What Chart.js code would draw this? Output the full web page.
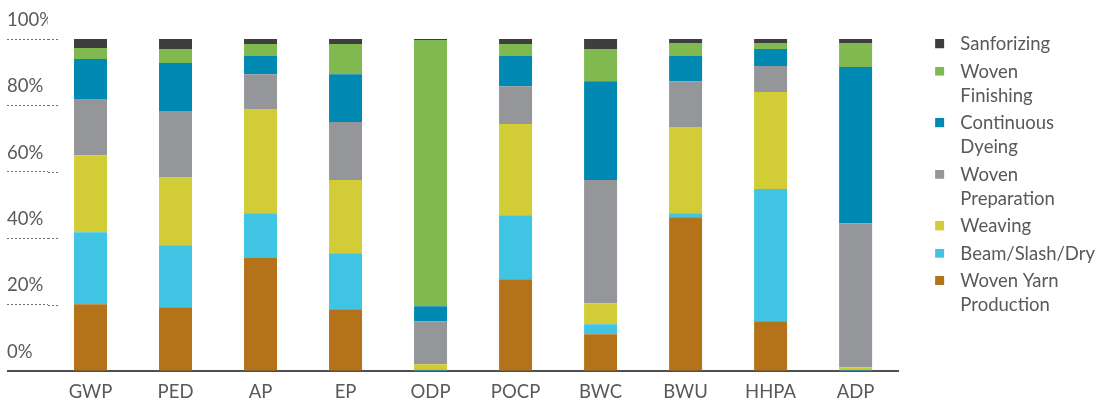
<!DOCTYPE html>
<html>
<head>
<meta charset="utf-8">
<script src="https://cdn.jsdelivr.net/npm/chart.js@4.4.1/dist/chart.umd.min.js"></script>
<style>
  html, body { margin: 0; padding: 0; background: #ffffff; }
  #wrap { position: relative; width: 1102px; height: 407px; }
</style>
</head>
<body>
<div id="wrap"><canvas id="chart"></canvas></div>
<script>
// Impact categories along the x axis
const categories = ['GWP', 'PED', 'AP', 'EP', 'ODP', 'POCP', 'BWC', 'BWU', 'HHPA', 'ADP'];

// Share of each process step per category (%), bottom of the stack first
const wovenYarnProduction = [20.1, 19.2, 34.0, 18.6, 0.0, 27.6, 11.1, 46.3, 15.0, 0.0];
const beamSlashDry        = [21.7, 18.7, 13.5, 16.9, 0.5, 19.3,  3.0,  1.2, 39.8, 0.5];
const weaving             = [23.2, 20.5, 31.4, 22.0, 1.5, 27.5,  6.3, 26.0, 29.2, 0.6];
const wovenPreparation    = [16.9, 19.9, 10.5, 17.5, 13.0, 11.4, 37.1, 13.8, 7.9, 43.4];
const continuousDyeing    = [12.1, 14.5,  5.5, 14.4, 4.5,  9.1, 29.8,  7.6, 5.1, 47.1];
const wovenFinishing      = [ 3.3,  4.2,  3.6,  9.1, 80.2, 3.6,  9.7,  3.9, 1.8,  7.2];
const sanforizing         = [ 2.7,  3.0,  1.5,  1.5, 0.3,  1.5,  3.0,  1.2, 1.2,  1.2];

// Value axis ticks (%)
const yTicks = [0, 20, 40, 60, 80, 100];

// Series names and their wrapped legend text
const seriesNames = ['Woven Yarn Production', 'Beam/Slash/Dry', 'Weaving', 'Woven Preparation',
                     'Continuous Dyeing', 'Woven Finishing', 'Sanforizing'];
const legendLines = [['Woven Yarn', 'Production'], ['Beam/Slash/Dry'], ['Weaving'], ['Woven', 'Preparation'],
                     ['Continuous', 'Dyeing'], ['Woven', 'Finishing'], ['Sanforizing']];
const seriesValues = [wovenYarnProduction, beamSlashDry, weaving, wovenPreparation,
                      continuousDyeing, wovenFinishing, sanforizing];
const seriesColors = ['#b57319', '#40c4e3', '#d2cd36', '#959699', '#0089b2', '#80b94f', '#3e3e3f'];

const TEXT = '#58595b';
const FONT = 'Lato, "Open Sans", "DejaVu Sans", sans-serif';
const FONT_SIZE = 18.5;

// Small square legend swatch, padded on the left so the text sits further right
function swatch(color) {
  const c = document.createElement('canvas');
  c.width = 50; c.height = 10;
  const g = c.getContext('2d');
  g.fillStyle = color;
  g.fillRect(34, 0, 9, 9);
  return c;
}
const swatches = seriesColors.map(swatch);

// Dotted rule stubs just inside the plot edge, and the solid baseline under the labels
const axisRules = {
  id: 'axisRules',
  afterDraw(chart) {
    const { ctx, chartArea, scales } = chart;
    const y = scales.y;
    ctx.save();
    ctx.lineWidth = 1;
    ctx.strokeStyle = '#6d6e70';
    ctx.setLineDash([2, 2]);
    yTicks.forEach(v => {
      if (v === 0) return;
      const py = Math.round(y.getPixelForValue(v)) + 0.5;
      ctx.beginPath();
      ctx.moveTo(chartArea.left, py);
      ctx.lineTo(chartArea.left + 12, py);
      ctx.stroke();
    });
    ctx.setLineDash([]);
    ctx.strokeStyle = '#4f4f50';
    ctx.lineWidth = 2;
    const by = y.getPixelForValue(0);
    ctx.beginPath();
    ctx.moveTo(y.left, by);
    ctx.lineTo(chartArea.left, by);
    ctx.stroke();
    ctx.restore();
  }
};

const datasets = seriesNames.map((name, i) => ({
  label: name,
  data: seriesValues[i],
  backgroundColor: seriesColors[i],
  borderWidth: 0,
  categoryPercentage: 1.0,
  barPercentage: 0.388
}));

Chart.defaults.font.family = FONT;
Chart.defaults.font.size = FONT_SIZE;
Chart.defaults.color = TEXT;

new Chart(document.getElementById('chart'), {
  type: 'bar',
  data: { labels: categories, datasets },
  plugins: [axisRules],
  options: {
    responsive: true,
    maintainAspectRatio: false,
    animation: false,
    layout: { padding: { left: 7, top: 32, right: -3, bottom: 0 } },
    plugins: {
      tooltip: { enabled: false },
      legend: {
        position: 'right',
        align: 'start',
        reverse: true,
        labels: {
          color: TEXT,
          font: { family: FONT, size: FONT_SIZE, lineHeight: 24.3 / FONT_SIZE },
          padding: 3,
          usePointStyle: true,
          pointStyleWidth: 50,
          boxHeight: 9,
          generateLabels(chart) {
            const items = Chart.defaults.plugins.legend.labels.generateLabels(chart);
            return items.map(item => Object.assign(item, {
              text: legendLines[item.datasetIndex],
              pointStyle: swatches[item.datasetIndex]
            }));
          }
        }
      }
    },
    scales: {
      x: {
        stacked: true,
        afterFit(scale) { scale.height = 36; },
        grid: { display: false, drawTicks: false },
        border: { display: true, color: '#4f4f50', width: 2 },
        ticks: { color: TEXT, font: { size: FONT_SIZE }, padding: 10.2 }
      },
      y: {
        stacked: true,
        min: 0,
        max: 100,
        z: 1,
        afterBuildTicks(scale) { scale.ticks = yTicks.map(v => ({ value: v })); },
        afterFit(scale) { scale.width = 41; },
        border: { display: false, dash: [2, 2] },
        grid: {
          drawOnChartArea: true,
          drawTicks: true,
          tickLength: 41,
          lineWidth: 1,
          color: ctx => (ctx.tick && (ctx.tick.value === 0 || ctx.tick.value === 100)) ? 'rgba(0,0,0,0)' : 'rgba(255,255,255,0.9)',
          tickColor: ctx => (ctx.tick && ctx.tick.value === 0) ? 'rgba(0,0,0,0)' : '#6d6e70',
          tickBorderDash: [2, 2],
          tickWidth: 1
        },
        ticks: {
          color: TEXT,
          font: { size: FONT_SIZE },
          align: 'end',
          crossAlign: 'far',
          padding: 39 - FONT_SIZE * 1.2,
          labelOffset: -10,
          callback: v => v + '%'
        }
      }
    }
  }
});
</script>
</body>
</html>
